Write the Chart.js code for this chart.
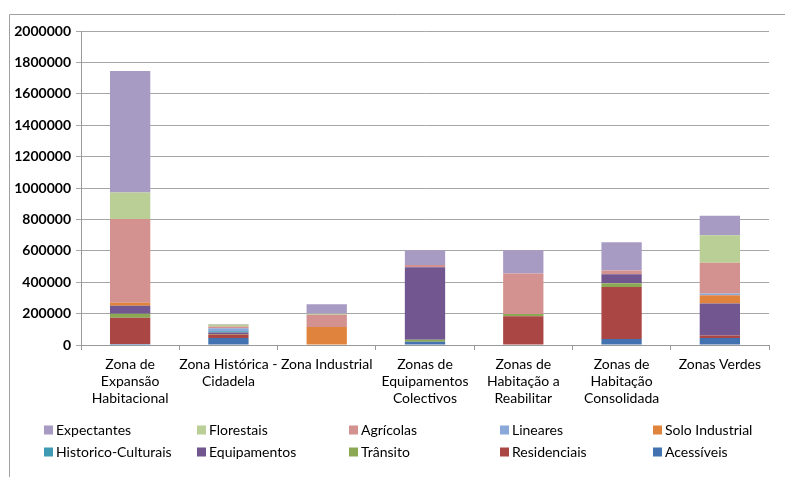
<!DOCTYPE html>
<html>
<head>
<meta charset="utf-8">
<script src="https://cdn.jsdelivr.net/npm/chart.js@4"></script>
<style>
  html,body{margin:0;padding:0;background:#fff;}
  #wrap{width:785px;height:477px;position:relative;}
</style>
</head>
<body>
<div id="wrap"><canvas id="grafica" width="785" height="477"></canvas></div>
<script>
// zonas (eixo x)
const zonas = [
  ['Zona de', 'Expansão', 'Habitacional'],
  ['Zona Histórica -', 'Cidadela'],
  'Zona Industrial',
  ['Zonas de', 'Equipamentos', 'Colectivos'],
  ['Zonas de', 'Habitação a', 'Reabilitar'],
  ['Zonas de', 'Habitação', 'Consolidada'],
  'Zonas Verdes'
];

// series, de baixo para cima
const acessiveis      = [6000, 45000, 3000, 21000, 0, 38000, 45000];
const residenciais    = [168000, 22000, 0, 0, 183000, 332000, 15000];
const transito        = [25000, 3000, 0, 13000, 15000, 23000, 0];
const equipamentos    = [51000, 9000, 0, 462000, 0, 58000, 204000];
const historicos      = [0, 9000, 0, 0, 0, 0, 0];
const soloIndustrial  = [19000, 0, 111000, 0, 0, 0, 53000];
const lineares        = [0, 18000, 0, 0, 0, 0, 11000];
const agricolas       = [533000, 12000, 79000, 13000, 258000, 23000, 196000];
const florestais      = [170000, 12000, 6000, 0, 0, 0, 175000];
const expectantes     = [773000, 3000, 60000, 94000, 147000, 181000, 124000];

const ticksY = [0, 200000, 400000, 600000, 800000, 1000000, 1200000, 1400000, 1600000, 1800000, 2000000];

const series = [
  {label: 'Acessíveis', data: acessiveis, cor: '#4273b0'},
  {label: 'Residenciais', data: residenciais, cor: '#aa4643'},
  {label: 'Trânsito', data: transito, cor: '#8ba955'},
  {label: 'Equipamentos', data: equipamentos, cor: '#71568f'},
  {label: 'Historico-Culturais', data: historicos, cor: '#3f9bb3'},
  {label: 'Solo Industrial', data: soloIndustrial, cor: '#e0833c'},
  {label: 'Lineares', data: lineares, cor: '#8aa8d8'},
  {label: 'Agrícolas', data: agricolas, cor: '#d3928f'},
  {label: 'Florestais', data: florestais, cor: '#bacf95'},
  {label: 'Expectantes', data: expectantes, cor: '#a79ac3'}
];

const fonte = 'Lato, "DejaVu Sans", sans-serif';

// moldura + legenda em colunas como no original
const legendaColunas = {
  id: 'legendaColunas',
  beforeDraw(chart){
    const c = chart.ctx;
    c.save();
    c.strokeStyle = '#a0a0a0';
    c.lineWidth = 1;
    c.beginPath();
    c.moveTo(9.5, 477);
    c.lineTo(9.5, 14.5);
    c.lineTo(785, 14.5);
    c.stroke();
    c.restore();
  },
  afterDraw(chart){
    const c = chart.ctx;
    const colX = [44, 197, 349, 500, 653];
    const rowY = [430, 452];
    const itens = chart.data.datasets.slice().reverse();
    c.save();
    c.font = '14px ' + fonte;
    c.textBaseline = 'middle';
    c.fillStyle = '#000';
    itens.forEach((ds, i) => {
      let x = colX[i % 5], y = rowY[Math.floor(i / 5)];
      c.fillStyle = ds.backgroundColor;
      c.fillRect(x, y - 4.5, 9, 9);
      c.fillStyle = '#000';
      c.fillText(ds.label, x + 12, y);
    });
    c.restore();
  }
};

new Chart(document.getElementById('grafica'), {
  type: 'bar',
  data: {
    labels: zonas,
    datasets: series.map(s => ({
      label: s.label,
      data: s.data,
      backgroundColor: s.cor,
      borderWidth: 0,
      barPercentage: 0.41,
      categoryPercentage: 1
    }))
  },
  options: {
    responsive: false,
    animation: false,
    layout: {padding: {top: 31, right: 16, bottom: 70, left: 0}},
    plugins: {legend: {display: false}, tooltip: {enabled: false}},
    scales: {
      x: {
        stacked: true,
        offset: true,
        afterFit: s => { s.height = 62; },
        grid: {display: true, drawOnChartArea: false, tickLength: 5, color: '#999'},
        border: {color: '#999'},
        ticks: {maxRotation: 0, autoSkip: false, padding: 6, color: '#000',
          font: {family: fonte, size: 14}}
      },
      y: {
        stacked: true,
        min: 0,
        max: 2000000,
        afterFit: s => { s.width = 81; },
        afterBuildTicks: s => { s.ticks = ticksY.map(v => ({value: v})); },
        grid: {color: '#a6a6a6', tickLength: 5},
        border: {color: '#999'},
        ticks: {padding: 5, color: '#000', callback: v => String(v),
          font: {family: fonte, size: 14, weight: 'bold'}}
      }
    }
  },
  plugins: [legendaColunas]
});
</script>
</body>
</html>
